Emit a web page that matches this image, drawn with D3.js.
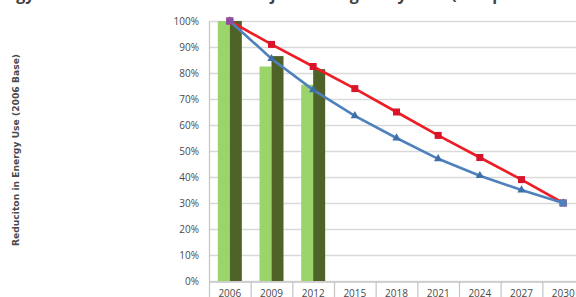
<!DOCTYPE html>
<html lang="en">
<head>
<meta charset="UTF-8">
<title>Energy use reduction</title>
<style>
    body { margin: 0; overflow: hidden; background: #fff; }
    svg { display: block; font-family: "Open Sans", "Liberation Sans", sans-serif; }
</style>
</head>
<body>
<svg id="chart"></svg>
<script src="https://cdn.jsdelivr.net/npm/d3@7"></script>
<script>
    // values, in percent of the 2006 base
    const years = ["2006", "2009", "2012", "2015", "2018", "2021", "2024", "2027", "2030"];
    const barYears = ["2006", "2009", "2012"];
    const actualLight = [100, 82.5, 75.5];
    const actualDark = [100, 86.5, 81.5];
    const targetLinear = [100, 91, 82.5, 74, 65, 56, 47.5, 39, 30];
    const targetCurve = [100, 85.5, 73.5, 63.5, 55, 47, 40.5, 35, 30];
    const yTicks = [0, 10, 20, 30, 40, 50, 60, 70, 80, 90, 100];

    const width = 576, height = 297;
    const margin = { top: 21, right: -8, bottom: 16, left: 209 };

    const svg = d3.select("#chart").attr("width", width).attr("height", height);

    const x = d3.scaleBand()
        .domain(years)
        .range([margin.left, width - margin.right]);
    const y = d3.scaleLinear()
        .domain([0, 100])
        .range([height - margin.bottom, margin.top]);

    // title, cut off at the very top in the original
    svg.append("text")
        .attr("x", 292)
        .attr("y", -0.5)
        .attr("text-anchor", "middle")
        .attr("font-size", 16)
        .attr("font-weight", "bold")
        .attr("fill", "#404040")
        .text("Energy Use Reduction: Actual vs. Projected Targets by Year (Campus Buildings)");

    // horizontal gridlines
    svg.append("g")
        .selectAll("line")
        .data(yTicks)
        .join("line")
        .attr("x1", margin.left)
        .attr("x2", width)
        .attr("y1", d => y(d) + 0.5)
        .attr("y2", d => y(d) + 0.5)
        .attr("stroke", "#d9d9d9")
        .attr("stroke-width", 1.3);

    // y axis
    const yAxis = svg.append("g")
        .attr("transform", `translate(${margin.left},0)`)
        .call(d3.axisLeft(y).tickValues(yTicks).tickSize(0).tickPadding(10).tickFormat(d => d + "%"));
    yAxis.select(".domain").attr("stroke", "#c8c8c8").attr("stroke-width", 1.3);
    yAxis.selectAll("text").attr("font-size", 10).attr("fill", "#4a4a4a")
        .attr("font-family", "'Open Sans', 'Liberation Sans', sans-serif");

    // x axis with Excel-like category dividers
    const xAxis = svg.append("g")
        .attr("transform", `translate(0,${y(0) + 0.5})`)
        .call(d3.axisBottom(x).tickSize(0).tickPadding(8));
    xAxis.select(".domain").attr("stroke", "#c8c8c8").attr("stroke-width", 1.3);
    xAxis.selectAll("text").attr("font-size", 10).attr("fill", "#4a4a4a")
        .attr("font-family", "'Open Sans', 'Liberation Sans', sans-serif");
    xAxis.selectAll(".divider")
        .data(years)
        .join("line")
        .attr("class", "divider")
        .attr("x1", d => x(d) + 0.5)
        .attr("x2", d => x(d) + 0.5)
        .attr("y1", 0)
        .attr("y2", 20)
        .attr("stroke", "#c8c8c8")
        .attr("stroke-width", 1.3);

    // y axis title
    svg.append("text")
        .attr("transform", "translate(19,150) rotate(-90)")
        .attr("text-anchor", "middle")
        .attr("font-size", 9.2)
        .attr("font-weight", "bold")
        .attr("fill", "#4a4a4a")
        .attr("font-family", "'DejaVu Sans', sans-serif")
        .text("Reduciton in Energy Use (2006 Base)");

    // paired bars
    const inner = d3.scaleBand()
        .domain(["light", "dark"])
        .range([0, 24]);
    const barData = barYears.flatMap((yr, i) => [
        { year: yr, key: "light", value: actualLight[i] },
        { year: yr, key: "dark", value: actualDark[i] }
    ]);
    const barColor = { light: "#9bd46a", dark: "#4f6228" };
    svg.append("g")
        .selectAll("rect")
        .data(barData)
        .join("rect")
        .attr("x", d => x(d.year) + (x.bandwidth() - 24) / 2 + inner(d.key))
        .attr("width", inner.bandwidth())
        .attr("y", d => y(d.value))
        .attr("height", d => y(0) - y(d.value))
        .attr("fill", d => barColor[d.key]);

    const cx = d => x(d) + x.bandwidth() / 2;

    // red linear target
    const redPts = years.map((yr, i) => [cx(yr), y(targetLinear[i])]);
    svg.append("path")
        .attr("d", d3.line()(redPts))
        .attr("fill", "none")
        .attr("stroke", "#ee1c25")
        .attr("stroke-width", 2.6);
    svg.append("g")
        .selectAll("rect")
        .data(redPts)
        .join("rect")
        .attr("x", d => d[0] - 3.5)
        .attr("y", d => d[1] - 3.5)
        .attr("width", 7)
        .attr("height", 7)
        .attr("fill", "#d9142a");

    // blue curve
    const bluePts = years.map((yr, i) => [cx(yr), y(targetCurve[i])]);
    svg.append("path")
        .attr("d", d3.line()(bluePts))
        .attr("fill", "none")
        .attr("stroke", "#4f81bd")
        .attr("stroke-width", 2.6);
    svg.append("g")
        .selectAll("path")
        .data(bluePts)
        .join("path")
        .attr("transform", d => `translate(${d[0]},${d[1]})`)
        .attr("d", d3.symbol(d3.symbolTriangle, 30))
        .attr("fill", "#3f6fa8");

    // markers where both lines meet
    svg.append("g")
        .selectAll("rect")
        .data([bluePts[0], bluePts[bluePts.length - 1]])
        .join("rect")
        .attr("x", d => d[0] - 3.5)
        .attr("y", d => d[1] - 3.5)
        .attr("width", 7)
        .attr("height", 7)
        .attr("fill", (d, i) => i === 0 ? "#8a4fa8" : "#4f81bd");
</script>
</body>
</html>
